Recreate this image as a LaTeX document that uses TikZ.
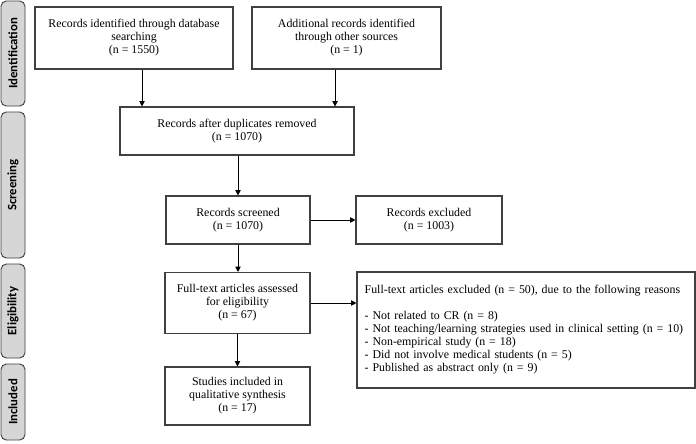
\documentclass[tikz,border=0pt]{standalone}
\usepackage{fontspec}
\setmainfont{Liberation Serif}
\newfontfamily\sidefont{Carlito}
\usetikzlibrary{arrows.meta}
\definecolor{sidegray}{rgb}{0.84,0.84,0.84}
\definecolor{boxline}{rgb}{0.25,0.25,0.25}

\begin{document}
\begin{tikzpicture}[x=0.75pt,y=-0.75pt,
  box/.style={draw=boxline,line width=0.8pt,align=center,inner sep=0pt,
    font=\fontsize{8.9}{9.75}\selectfont},
  stage/.style={draw=boxline,fill=sidegray,line width=0.7pt,rounded corners=4pt,
    rotate=90,minimum height=18pt,inner sep=0pt,
    font=\sidefont\bfseries\fontsize{9.6}{10}\selectfont},
  arr/.style={-{Triangle[length=4pt,width=4pt]},line width=0.7pt}]

\useasboundingbox (0,0) rectangle (696,443);

% stage labels
\node[stage,minimum width=78.75pt] (ident) at (13,53.5) {Identification};
\node[stage,minimum width=109.5pt] (screen) at (13,185) {Screening};
\node[stage,minimum width=70.5pt] (elig) at (13,311) {Eligibility};
\node[stage,minimum width=57pt] (incl) at (13,402) {Included};

% boxes
\node[box,minimum width=148.5pt,minimum height=46.5pt] (db) at (134,38)
  {Records identified through database\\ searching\\ (n = 1550)};
\node[box,minimum width=141.75pt,minimum height=46.5pt] (other) at (346.5,38)
  {Additional records identified\\ through other sources\\ (n = 1)};
\node[box,minimum width=175.5pt,minimum height=36pt] (dup) at (237,131)
  {Records after duplicates removed\\ (n = 1070)};
\node[box,minimum width=108pt,minimum height=36pt] (scr) at (238,220)
  {Records screened\\ (n = 1070)};
\node[box,minimum width=109.5pt,minimum height=36pt] (excl) at (429,220)
  {Records excluded\\ (n = 1003)};
\node[box,minimum width=108.75pt,minimum height=45.75pt] (full) at (237.5,303)
  {Full-text articles assessed\\ for eligibility\\ (n = 67)};
\node[box,minimum width=108.75pt,minimum height=43.5pt] (study) at (237.5,396)
  {Studies included in\\ qualitative synthesis\\ (n = 17)};
\node[box,minimum width=253.5pt,minimum height=87pt,align=left,
  text width=242pt] (reasons) at (526,330)
  {Full-text articles excluded (n = 50), due to the following reasons\\[9.75pt]
   - Not related to CR (n = 8)\\
   - Not teaching/learning strategies used in clinical setting (n = 10)\\
   - Non-empirical study (n = 18)\\
   - Did not involve medical students (n = 5)\\
   - Published as abstract only (n = 9)};

% arrows
\draw[arr] ([xshift=6pt]db.south) -- ([xshift=6pt]db.south |- dup.north);
\draw[arr] ([xshift=-8.6pt]other.south) -- ([xshift=-8.6pt]other.south |- dup.north);
\draw[arr] (dup.south -| scr.north) -- (scr.north);
\draw[arr] (scr.east) -- (excl.west);
\draw[arr] (scr.south) -- (scr.south |- full.north);
\draw[arr] (full.east) -- (full.east -| reasons.west);
\draw[arr] (full.south) -- (study.north);
\end{tikzpicture}
\end{document}
